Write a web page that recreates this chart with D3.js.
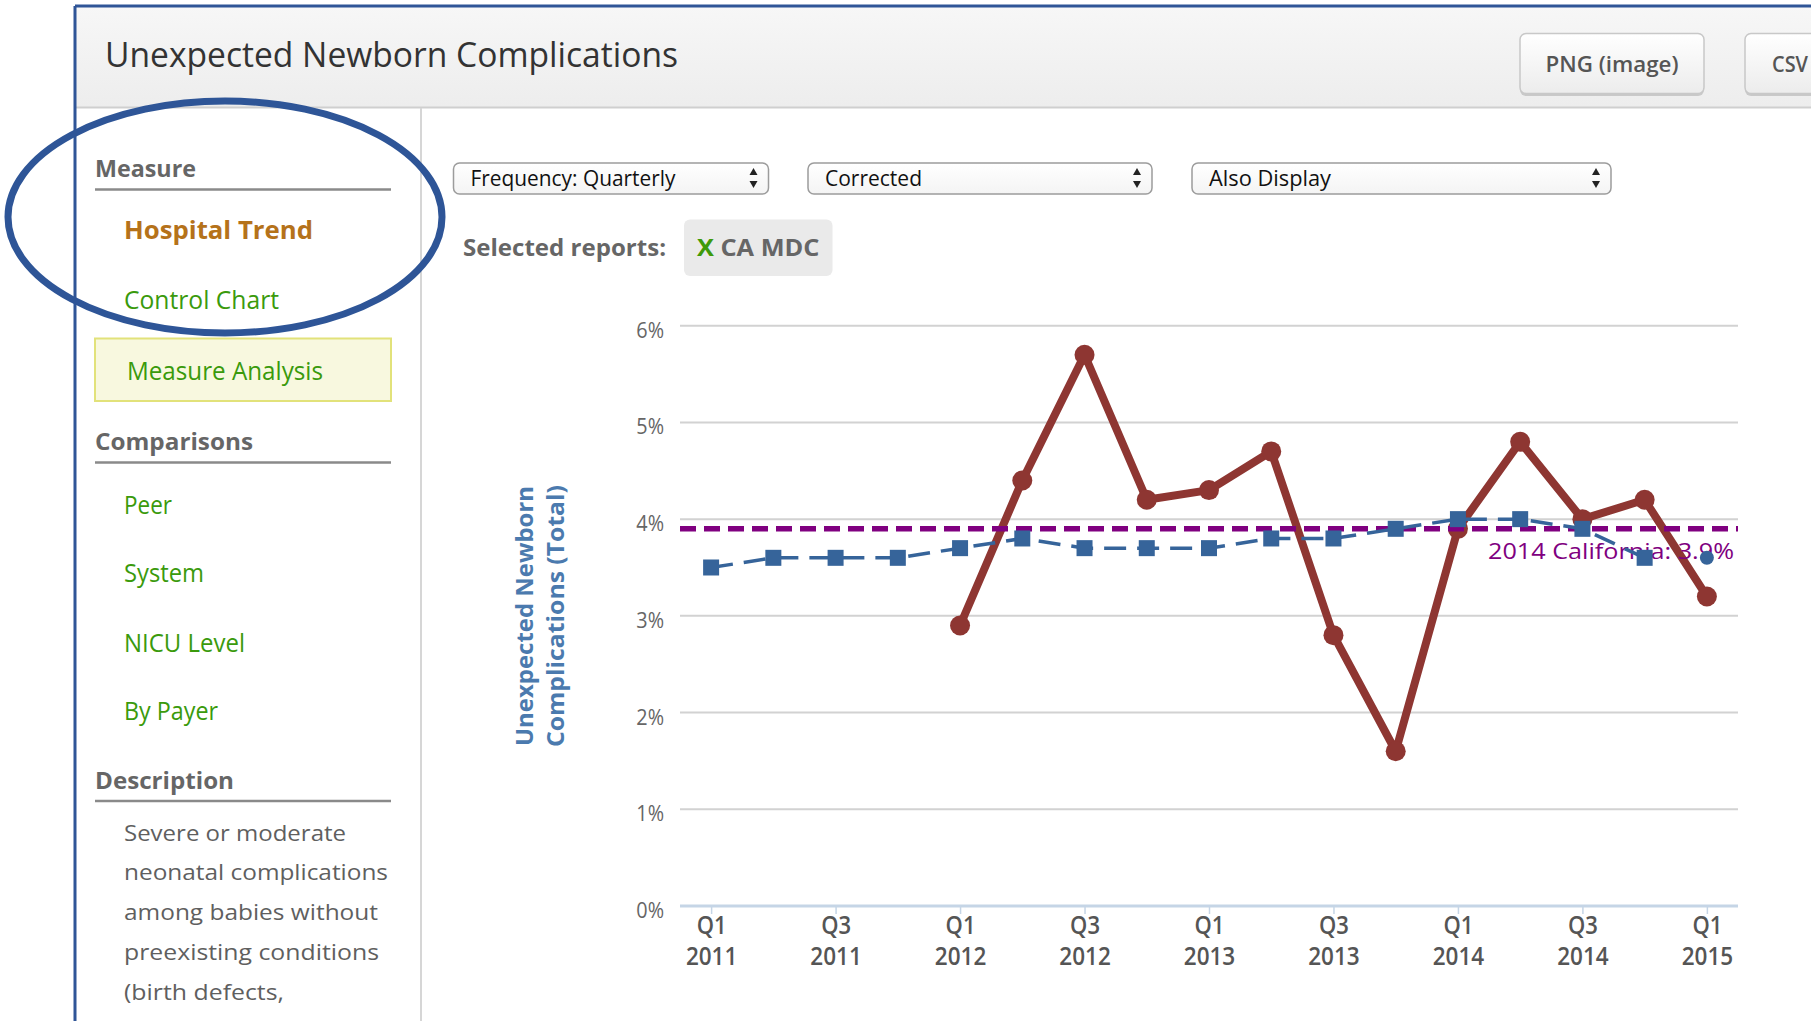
<!DOCTYPE html>
<html>
<head>
<meta charset="utf-8">
<script src="https://cdn.jsdelivr.net/npm/d3@7"></script>
<style>
  html, body { margin: 0; padding: 0; background: #fff; }
  svg { display: block; }
  text { font-family: "Open Sans", "Noto Sans", sans-serif; }
</style>
</head>
<body>
<svg id="page" width="1811" height="1021"></svg>
<script>
// ---------------- data ----------------
const quarters = ["Q1 2011","Q2 2011","Q3 2011","Q4 2011",
                  "Q1 2012","Q2 2012","Q3 2012","Q4 2012",
                  "Q1 2013","Q2 2013","Q3 2013","Q4 2013",
                  "Q1 2014","Q2 2014","Q3 2014","Q4 2014","Q1 2015"];
const hospitalRate = [null,null,null,null,2.9,4.4,5.7,4.2,4.3,4.7,2.8,1.6,3.9,4.8,4.0,4.2,3.2];
const caMdcRate    = [3.5,3.6,3.6,3.6,3.7,3.8,3.7,3.7,3.7,3.8,3.8,3.9,4.0,4.0,3.9,3.6,3.6];
const caMdcLastIsDot = true;
const benchmarkValue = 3.9;
const benchmarkLabel = "2014 California: 3.9%";
const yTicks = [0,1,2,3,4,5,6];
const xTickQuarters = ["Q1 2011","Q3 2011","Q1 2012","Q3 2012","Q1 2013","Q3 2013","Q1 2014","Q3 2014","Q1 2015"];
const yAxisTitle = ["Unexpected Newborn","Complications (Total)"];

const pageTitle = "Unexpected Newborn Complications";
const measureLinks = ["Hospital Trend","Control Chart","Measure Analysis"];
const comparisonLinks = ["Peer","System","NICU Level","By Payer"];
const descriptionLines = ["Severe or moderate","neonatal complications","among babies without","preexisting conditions","(birth defects,"];
const selectLabels = ["Frequency: Quarterly","Corrected","Also Display"];
const buttonLabels = ["PNG (image)","CSV"];

// ---------------- helpers ----------------
const svg = d3.select("#page");
function squeeze(sel, factor){
  sel.each(function(){
    const w = this.getComputedTextLength();
    d3.select(this).attr("textLength", w*factor).attr("lengthAdjust","spacingAndGlyphs");
  });
  return sel;
}
function fitW(sel, w){
  return sel.attr("textLength", w).attr("lengthAdjust","spacingAndGlyphs");
}

const defs = svg.append("defs");
const hg = defs.append("linearGradient").attr("id","hdr").attr("x1",0).attr("y1",0).attr("x2",0).attr("y2",1);
hg.append("stop").attr("offset","0%").attr("stop-color","#f7f7f7");
hg.append("stop").attr("offset","100%").attr("stop-color","#ededed");
const bg = defs.append("linearGradient").attr("id","btn").attr("x1",0).attr("y1",0).attr("x2",0).attr("y2",1);
bg.append("stop").attr("offset","0%").attr("stop-color","#ffffff");
bg.append("stop").attr("offset","100%").attr("stop-color","#ececec");
const sg = defs.append("linearGradient").attr("id","sel").attr("x1",0).attr("y1",0).attr("x2",0).attr("y2",1);
sg.append("stop").attr("offset","0%").attr("stop-color","#ffffff");
sg.append("stop").attr("offset","100%").attr("stop-color","#f4f4f4");

// ---------------- page frame / header ----------------
svg.append("rect").attr("x",75).attr("y",6).attr("width",1736).attr("height",101).attr("fill","url(#hdr)");
svg.append("line").attr("x1",75).attr("x2",1811).attr("y1",107.5).attr("y2",107.5).attr("stroke","#cfcfcf").attr("stroke-width",2);
svg.append("line").attr("x1",421).attr("x2",421).attr("y1",108).attr("y2",1021).attr("stroke","#d6d6d6").attr("stroke-width",2);

fitW(svg.append("text").attr("x",105).attr("y",67).attr("font-size",35).attr("fill","#333").text(pageTitle), 573);

// buttons
const btnX = [1520, 1745], btnW = [184, 120];
buttonLabels.forEach((b,i)=>{
  svg.append("rect").attr("x",btnX[i]).attr("y",35).attr("width",btnW[i]).attr("height",61).attr("rx",6).attr("fill","#c9c9c9");
  svg.append("rect").attr("x",btnX[i]).attr("y",33.5).attr("width",btnW[i]).attr("height",60).attr("rx",6)
     .attr("fill","url(#btn)").attr("stroke","#c8c8c8").attr("stroke-width",1.5);
  const t = svg.append("text").attr("y",72).attr("font-size",22).attr("font-weight",600).attr("fill","#555").text(b);
  if(i===0){ t.attr("x",1612).attr("text-anchor","middle"); fitW(t,133); }
  else { t.attr("x",1772); fitW(t,36); }
});

// ---------------- sidebar ----------------
function heading(txt, y, lineY, w){
  fitW(svg.append("text").attr("x",95).attr("y",y).attr("font-size",23).attr("font-weight",700).attr("fill","#666").text(txt), w);
  svg.append("line").attr("x1",95).attr("x2",391).attr("y1",lineY).attr("y2",lineY).attr("stroke","#8a8a8a").attr("stroke-width",2.5);
}
heading("Measure",177,189.5,101);
heading("Comparisons",450,462.5,158);
heading("Description",789,801,139);

fitW(svg.append("text").attr("x",124).attr("y",239).attr("font-size",25).attr("font-weight",700).attr("fill","#b5721a").text(measureLinks[0]),189);
fitW(svg.append("text").attr("x",124).attr("y",309).attr("font-size",25).attr("font-weight",500).attr("fill","#3a9a0c").text(measureLinks[1]),155);
svg.append("rect").attr("x",95).attr("y",338.5).attr("width",296).attr("height",62.5).attr("fill","#f8f8df").attr("stroke","#e2e27a").attr("stroke-width",2);
fitW(svg.append("text").attr("x",127).attr("y",380).attr("font-size",25).attr("font-weight",500).attr("fill","#3a9a0c").text(measureLinks[2]),196);

const compY = [514, 582, 652, 720], compW = [48, 80, 121, 94];
comparisonLinks.forEach((c,i)=>{
  fitW(svg.append("text").attr("x",124).attr("y",compY[i]).attr("font-size",25).attr("font-weight",500).attr("fill","#3a9a0c").text(c), compW[i]);
});
const descY = [841, 880, 920, 960, 999.5], descW = [222, 264, 254, 255, 160];
descriptionLines.forEach((d,i)=>{
  fitW(svg.append("text").attr("x",124).attr("y",descY[i]).attr("font-size",22).attr("fill","#5f5f5f").text(d), descW[i]);
});

// ---------------- controls ----------------
const selX = [453.5, 808, 1192], selW = [315, 344, 419], selTextW = [205, 97, 122];
selectLabels.forEach((s,i)=>{
  svg.append("rect").attr("x",selX[i]).attr("y",163).attr("width",selW[i]).attr("height",31).attr("rx",6)
     .attr("fill","url(#sel)").attr("stroke","#9c9c9c").attr("stroke-width",1.5);
  fitW(svg.append("text").attr("x",selX[i]+17).attr("y",186).attr("font-family","'Liberation Sans', Arial, sans-serif")
     .attr("font-size",21).attr("fill","#111").text(s), selTextW[i]);
  const ax = selX[i]+selW[i]-15;
  svg.append("path").attr("d",`M${ax-4},175 L${ax+4},175 L${ax},168 Z`).attr("fill","#222");
  svg.append("path").attr("d",`M${ax-4},181 L${ax+4},181 L${ax},188 Z`).attr("fill","#222");
});

fitW(svg.append("text").attr("x",463).attr("y",256).attr("font-size",23).attr("font-weight",700).attr("fill","#666").text("Selected reports:"),203);
svg.append("rect").attr("x",684).attr("y",219.5).attr("width",148.5).attr("height",56.5).attr("rx",6).attr("fill","#eaeaea");
const tag = svg.append("text").attr("x",697).attr("y",256).attr("font-size",23).attr("font-weight",700);
tag.append("tspan").attr("fill","#3f9a0a").text("X");
tag.append("tspan").attr("fill","#666").text(" CA MDC");
fitW(tag,122.5);

// ---------------- chart ----------------
const x = d3.scalePoint().domain(quarters).range([680, 1738]).padding(0.5);
const y = d3.scaleLinear().domain([0, 6]).range([906, 325.7]);

const chart = svg.append("g");

// grid lines
chart.append("g").selectAll("line").data(yTicks.filter(d=>d>0)).join("line")
  .attr("x1",680).attr("x2",1738).attr("y1",d=>y(d)).attr("y2",d=>y(d))
  .attr("stroke","#d2d2d2").attr("stroke-width",2);

// y axis labels via d3 axis
const yAxis = chart.append("g").attr("transform","translate(664,0)")
  .call(d3.axisLeft(y).tickValues(yTicks).tickSize(0).tickPadding(0).tickFormat(d=>d+"%"));
yAxis.select(".domain").remove();
yAxis.selectAll("text").attr("font-family","'Open Sans', sans-serif").attr("font-size",22).attr("fill","#666")
  .attr("dy",null).attr("y",11.5);
squeeze(yAxis.selectAll("text"),0.9);

// x axis
const xAxis = chart.append("g").attr("transform","translate(0,906)")
  .call(d3.axisBottom(x).tickValues(xTickQuarters).tickSize(8).tickFormat(""));
xAxis.select(".domain").attr("stroke","#c5d5e6").attr("stroke-width",3).attr("d","M680,0H1738");
xAxis.selectAll(".tick line").attr("stroke","#c5d5e6").attr("stroke-width",1.5);
xAxis.selectAll(".tick").each(function(d){
  const parts = d.split(" ");
  const g = d3.select(this);
  g.select("text").remove();
  const t1 = g.append("text").attr("y",27.5).attr("text-anchor","middle").attr("font-size",25).attr("font-weight",600).attr("fill","#555").text(parts[0]);
  const t2 = g.append("text").attr("y",59).attr("text-anchor","middle").attr("font-size",25).attr("font-weight",600).attr("fill","#555").text(parts[1]);
  squeeze(t1,0.88); squeeze(t2,0.9);
});

// y axis title
const yt = chart.append("text").attr("transform","translate(0,616) rotate(-90)")
  .attr("text-anchor","middle").attr("font-size",24).attr("font-weight",700).attr("fill","#4b7aae");
fitW(yt.append("tspan").attr("x",0).attr("y",533).text(yAxisTitle[0]), 260);
fitW(yt.append("tspan").attr("x",0).attr("y",564).text(yAxisTitle[1]), 262);

// hospital series (red)
const hosp = quarters.map((q,i)=>({q, v: hospitalRate[i]})).filter(d=>d.v!==null);
chart.append("path").datum(hosp)
  .attr("d", d3.line().x(d=>x(d.q)).y(d=>y(d.v)))
  .attr("fill","none").attr("stroke","#8e3632").attr("stroke-width",8).attr("stroke-linejoin","round");
chart.append("g").selectAll("circle").data(hosp).join("circle")
  .attr("cx",d=>x(d.q)).attr("cy",d=>y(d.v)).attr("r",10).attr("fill","#8e3632");

// benchmark line
chart.append("line").attr("x1",680).attr("x2",1738).attr("y1",y(benchmarkValue)).attr("y2",y(benchmarkValue))
  .attr("stroke","#800080").attr("stroke-width",5.5).attr("stroke-dasharray","16,8");
fitW(chart.append("text").attr("x",1734).attr("y",y(benchmarkValue)+30).attr("text-anchor","end")
  .attr("font-size",22).attr("fill","#800080").text(benchmarkLabel), 246);

// CA MDC series (blue dashed)
const ca = quarters.map((q,i)=>({q, v: caMdcRate[i], dot: caMdcLastIsDot && i===quarters.length-1}));
const caLine = ca.filter(d=>!d.dot);
chart.append("path").datum(caLine)
  .attr("d", d3.line().x(d=>x(d.q)).y(d=>y(d.v)))
  .attr("fill","none").attr("stroke","#36649a").attr("stroke-width",3.5).attr("stroke-dasharray","22,11");
chart.append("g").selectAll("rect").data(caLine).join("rect")
  .attr("x",d=>x(d.q)-8).attr("y",d=>y(d.v)-8).attr("width",16).attr("height",16).attr("fill","#36649a");
chart.append("g").selectAll("circle").data(ca.filter(d=>d.dot)).join("circle")
  .attr("cx",d=>x(d.q)).attr("cy",d=>y(d.v)).attr("r",7).attr("fill","#36649a");

// ---------------- frame + highlight ellipse ----------------
svg.append("line").attr("x1",75).attr("x2",1811).attr("y1",6).attr("y2",6).attr("stroke","#2f5597").attr("stroke-width",3);
svg.append("line").attr("x1",75).attr("x2",75).attr("y1",6).attr("y2",1021).attr("stroke","#2f5597").attr("stroke-width",3);
svg.append("ellipse").attr("cx",225).attr("cy",217).attr("rx",217).attr("ry",116)
  .attr("fill","none").attr("stroke","#2e5597").attr("stroke-width",7);
</script>
</body>
</html>
